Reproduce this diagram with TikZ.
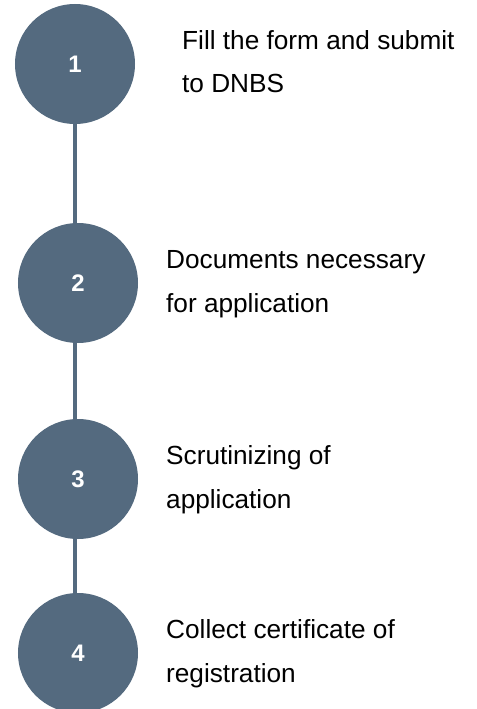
\documentclass[tikz,border=0pt]{standalone}
\usepackage{fontspec}
\setmainfont{Liberation Sans}
\usetikzlibrary{positioning}
\definecolor{slate}{RGB}{84,106,127}
\tikzset{
	stepcirc/.style={circle,fill=slate,draw=none,minimum size=120bp,inner sep=0,text=white,font=\fontsize{24}{24}\selectfont\bfseries},
	link/.style={color=slate, line width=4.5bp},
	steptext/.style={anchor=base west,align=left,inner sep=0,font=\fontsize{26.3}{43.5}\selectfont}
}
\begin{document}
\begin{tikzpicture}[x=1bp,y=-1bp]
	\useasboundingbox (0,0) rectangle (477,709);
	
	\node[stepcirc] (C1) at (75,64) {1};
	\node[stepcirc] (C2) at (78,283) {2};
	\node[stepcirc] (C3) at (78,479) {3};
	\node[stepcirc] (C4) at (78,653) {4};
	
	% base of last line
	\node[steptext] (T1) at (182,93) {Fill the form and submit\\to DNBS};
	\node[steptext] (T2) at (166,312) {Documents necessary\\for application};
	\node[steptext] (T3) at (166,508) {Scrutinizing of\\application};
	\node[steptext] (T4) at (166,682) {Collect certificate of\\registration};
	
	\draw[link] (C1.south) -- (C1.south |- C2.north);
	\draw[link] (C2.south -| C1.south) -- (C1.south |- C3.north);
	\draw[link] (C3.south -| C1.south) -- (C1.south |- C4.north);
\end{tikzpicture}
\end{document}
